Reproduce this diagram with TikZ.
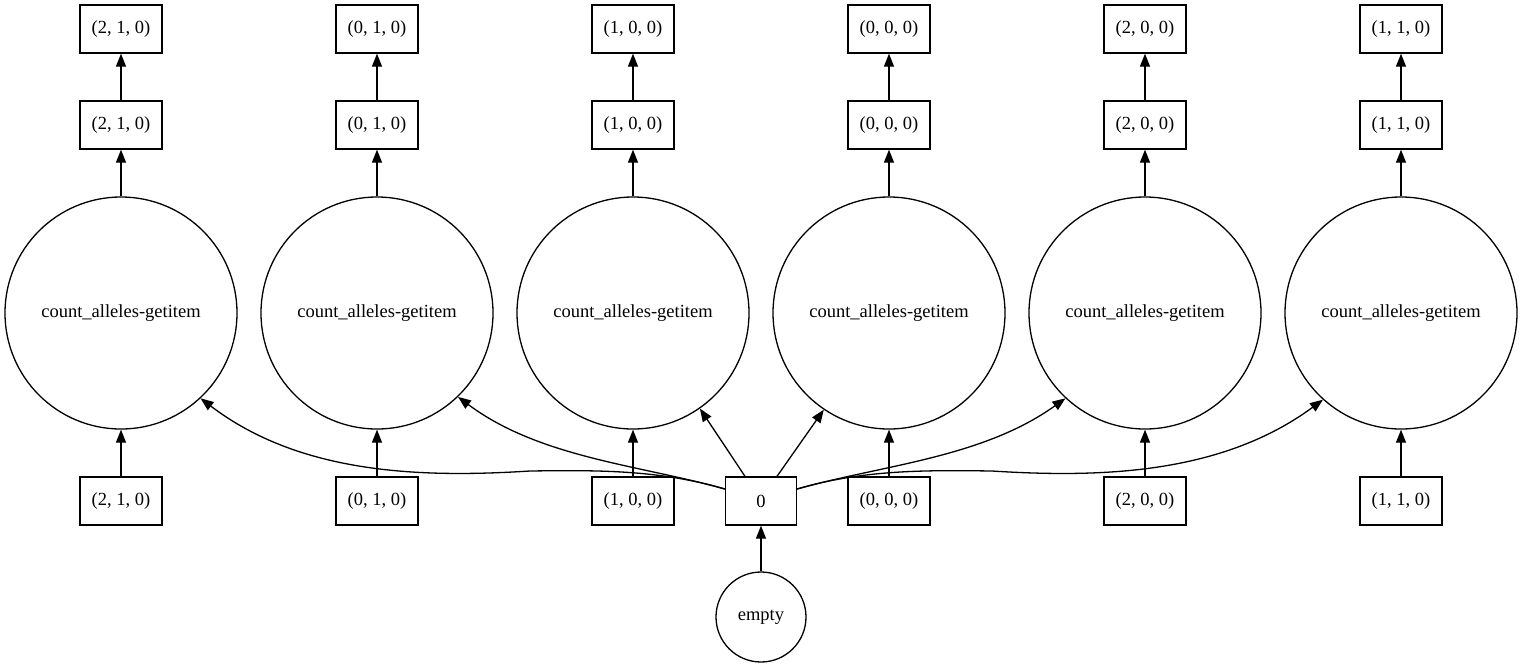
\documentclass[tikz,border=0pt]{standalone}
\usepackage{fontspec}
\setmainfont{Liberation Serif}
\usetikzlibrary{arrows.meta}
\begin{document}
\begin{tikzpicture}[x=1pt,y=-1pt,
  every node/.style={font=\fontsize{18.5}{22}\selectfont},
  box/.style={draw,line width=1.3pt,minimum width=82pt,minimum height=48pt,inner sep=0pt},
  zbox/.style={draw,line width=1.3pt,minimum width=71pt,minimum height=48pt,inner sep=0pt},
  big/.style={draw,circle,line width=1.3pt,minimum size=232pt,inner sep=0pt},
  small/.style={draw,circle,line width=1.3pt,minimum size=90pt,inner sep=0pt},
  edge/.style={line width=1.3pt,-{Triangle[length=13pt,width=10pt]}}]
\useasboundingbox (0,0) rectangle (1523,667);
\foreach \i/\x/\lab in {1/121/{(2, 1, 0)},2/377/{(0, 1, 0)},3/633/{(1, 0, 0)},4/889/{(0, 0, 0)},5/1145/{(2, 0, 0)},6/1401/{(1, 1, 0)}}{
  \node[box] (t\i) at (\x,29) {\lab};
  \node[box] (m\i) at (\x,125) {\lab};
  \node[big] (c\i) at (\x,313) {count\_alleles-getitem};
  \node[box] (b\i) at (\x,501) {\lab};
  \draw[edge] (b\i) -- (c\i);
  \draw[edge] (c\i) -- (m\i);
  \draw[edge] (m\i) -- (t\i);
}
\node[zbox] (zero) at (761,501) {0};
\node[small] (empty) at (761,617) {empty};
\draw[edge] (empty) -- (zero);
\draw[edge] ([xshift=-16pt]zero.north) -- (c3.-55.6);
\draw[edge] ([xshift=16pt]zero.north) -- (c4.-124.4);
\draw[edge] ([yshift=12pt]zero.west) .. controls (640,465) and (540,458) .. (c2.-46.4);
\draw[edge] ([yshift=12pt]zero.east) .. controls (882,465) and (982,458) .. (c5.-133.6);
\draw[edge] ([yshift=12pt]zero.west) .. controls (660,470) and (600,470) .. (530,471)
   .. controls (420,478) and (300,474) .. (c1.-47.8);
\draw[edge] ([yshift=12pt]zero.east) .. controls (862,470) and (922,470) .. (992,471)
   .. controls (1102,478) and (1222,474) .. (c6.-132.2);
\end{tikzpicture}
\end{document}
